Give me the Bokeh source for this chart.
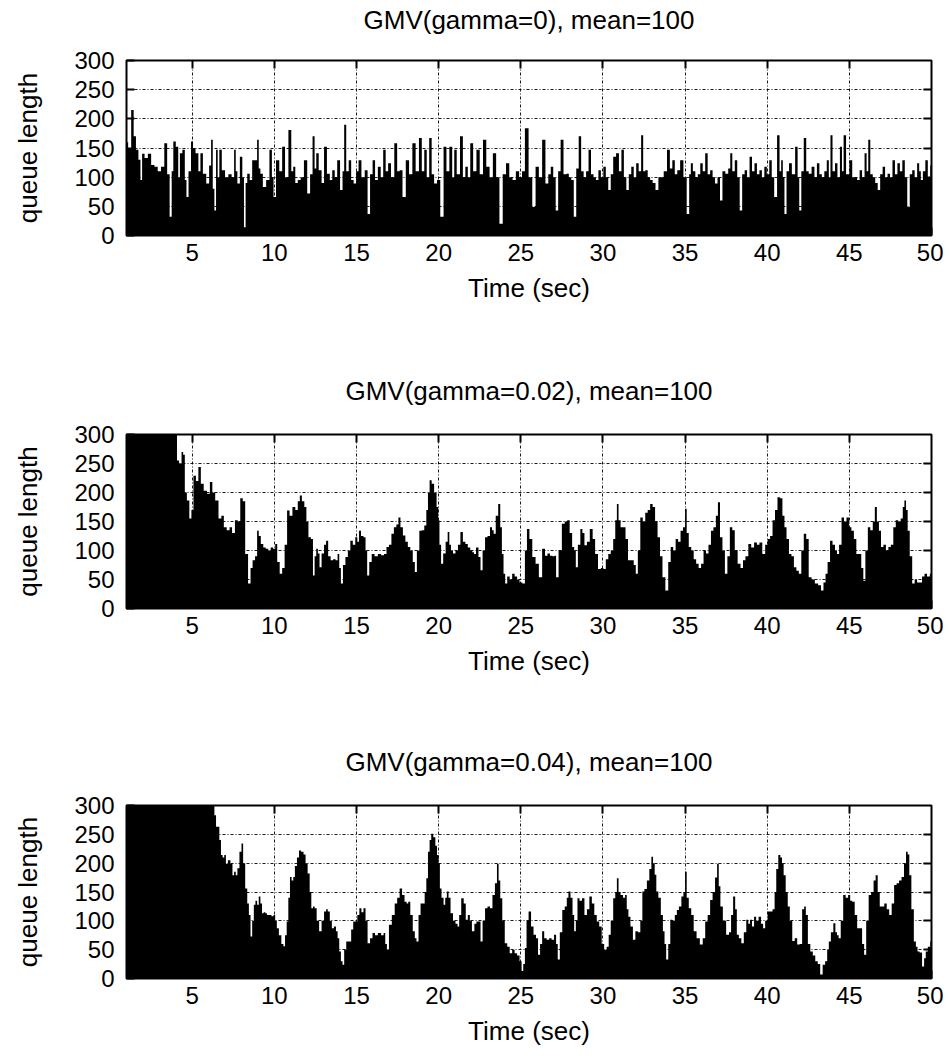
from bokeh.plotting import figure
from bokeh.models import Range1d, FixedTicker, LinearAxis
from bokeh.layouts import column
from bokeh.embed import file_html
from bokeh.resources import INLINE

# ---------------- data ----------------
titles = ["GMV(gamma=0), mean=100", "GMV(gamma=0.02), mean=100", "GMV(gamma=0.04), mean=100"]
x_ticks = [5, 10, 15, 20, 25, 30, 35, 40, 45, 50]
y_ticks = [0, 50, 100, 150, 200, 250, 300]

# panel 1 : gamma = 0
t1 = [1.0, 1.2, 1.37, 1.5, 1.65, 1.8, 1.9, 2.0, 2.2, 2.4,
      2.6, 2.8, 3.0, 3.2, 3.4, 3.55, 3.7, 3.8, 3.9, 4.1,
      4.2, 4.3, 4.5, 4.6, 4.7, 4.85, 5.0, 5.1, 5.3, 5.45,
      5.55, 5.75, 5.96, 6.1, 6.2, 6.3, 6.4, 6.5, 6.6, 6.7,
      6.9, 7.1, 7.3, 7.5, 7.6, 7.7, 7.8, 8.0, 8.1, 8.2,
      8.3, 8.4, 8.6, 8.7, 8.9, 9.0, 9.1, 9.2, 9.4, 9.6,
      9.8, 9.9, 10.0, 10.2, 10.4, 10.55, 10.75, 10.96, 11.1, 11.2,
      11.35, 11.5, 11.7, 11.9, 12.1, 12.25, 12.4, 12.5, 12.6, 12.8,
      12.95, 13.1, 13.3, 13.45, 13.6, 13.75, 13.9, 14.1, 14.2, 14.3,
      14.45, 14.6, 14.75, 14.9, 15.05, 15.2, 15.4, 15.6, 15.75, 15.9,
      16.06, 16.2, 16.4, 16.55, 16.7, 16.85, 17.0, 17.2, 17.4, 17.55,
      17.7, 17.9, 18.1, 18.3, 18.5, 18.7, 18.9, 19.05, 19.2, 19.35,
      19.5, 19.65, 19.8, 20.0, 20.2, 20.4, 20.55, 20.75, 20.9, 21.0,
      21.2, 21.4, 21.55, 21.7, 21.85, 22.0, 22.2, 22.4, 22.6, 22.8,
      23.0, 23.2, 23.4, 23.6, 23.8, 24.0, 24.2, 24.4, 24.6, 24.8,
      25.0, 25.15, 25.35, 25.6, 25.8, 26.0, 26.2, 26.4, 26.6, 26.75,
      26.9, 27.05, 27.2, 27.35, 27.5, 27.7, 27.85, 28.0, 28.15, 28.3,
      28.45, 28.6, 28.75, 28.9, 29.05, 29.2, 29.35, 29.5, 29.65, 29.8,
      29.95, 30.1, 30.25, 30.4, 30.55, 30.7, 30.9, 31.05, 31.2, 31.35,
      31.5, 31.65, 31.8, 31.95, 32.1, 32.25, 32.4, 32.5, 32.65, 32.8,
      32.95, 33.1, 33.3, 33.45, 33.6, 33.8, 34.0, 34.15, 34.3, 34.45,
      34.6, 34.8, 35.0, 35.2, 35.3, 35.4, 35.55, 35.7, 35.85, 36.0,
      36.15, 36.3, 36.45, 36.6, 36.75, 36.9, 37.05, 37.2, 37.35, 37.55,
      37.7, 37.8, 37.95, 38.1, 38.25, 38.4, 38.55, 38.7, 38.85, 39.0,
      39.15, 39.3, 39.45, 39.6, 39.75, 39.9, 40.05, 40.2, 40.35, 40.5,
      40.7, 40.8, 40.9, 41.0, 41.1, 41.25, 41.4, 41.6, 41.8, 41.9,
      42.0, 42.15, 42.3, 42.45, 42.6, 42.8, 42.95, 43.1, 43.25, 43.4,
      43.55, 43.7, 43.8, 43.9, 44.05, 44.2, 44.35, 44.5, 44.6, 44.7,
      44.9, 45.1, 45.25, 45.4, 45.55, 45.7, 45.85, 46.0, 46.1, 46.2,
      46.35, 46.5, 46.65, 46.8, 46.95, 47.1, 47.25, 47.4, 47.55, 47.7,
      47.85, 48.0, 48.15, 48.3, 48.45, 48.6, 48.75, 48.9, 49.05, 49.2,
      49.3, 49.4, 49.55, 49.7, 49.85, 50.0]
q1 = [160, 150, 215, 170, 147, 130, 95, 140, 133, 140,
      121, 118, 110, 118, 158, 105, 32, 110, 161, 152,
      100, 141, 147, 95, 66, 110, 161, 150, 141, 110,
      141, 106, 89, 120, 164, 80, 43, 147, 100, 147,
      112, 100, 105, 100, 147, 110, 89, 135, 100, 14,
      90, 106, 95, 129, 129, 164, 115, 106, 83, 95,
      147, 100, 66, 129, 110, 152, 100, 181, 110, 118,
      90, 95, 100, 129, 72, 105, 170, 115, 141, 112,
      90, 152, 106, 95, 112, 100, 129, 78, 110, 190,
      110, 129, 95, 89, 110, 129, 100, 112, 37, 105,
      129, 95, 118, 100, 147, 110, 124, 100, 158, 110,
      112, 66, 129, 105, 158, 110, 167, 110, 147, 100,
      167, 105, 89, 95, 32, 152, 110, 152, 100, 147,
      105, 170, 100, 118, 100, 158, 110, 147, 105, 164,
      118, 100, 141, 100, 20, 105, 124, 100, 95, 110,
      100, 110, 184, 100, 49, 118, 100, 164, 89, 105,
      118, 100, 43, 110, 164, 105, 106, 100, 95, 32,
      115, 170, 110, 100, 110, 147, 105, 100, 95, 112,
      100, 118, 100, 78, 105, 135, 141, 110, 147, 100,
      78, 105, 118, 100, 124, 110, 172, 110, 112, 100,
      95, 90, 78, 100, 100, 110, 147, 115, 129, 105,
      112, 129, 100, 37, 105, 124, 110, 100, 105, 124,
      110, 141, 105, 112, 100, 89, 100, 60, 110, 106,
      115, 141, 110, 129, 100, 43, 105, 112, 100, 135,
      110, 124, 105, 112, 100, 118, 105, 129, 100, 66,
      172, 110, 129, 100, 37, 110, 124, 105, 152, 100,
      43, 110, 167, 110, 106, 118, 100, 124, 105, 100,
      110, 129, 100, 172, 110, 124, 100, 152, 110, 172,
      105, 129, 100, 100, 95, 112, 100, 141, 110, 164,
      105, 100, 90, 78, 105, 118, 100, 106, 100, 129,
      105, 124, 110, 129, 100, 49, 105, 112, 100, 124,
      110, 95, 110, 129, 100, 120]

# panel 2 : gamma = 0.02 (values above 300 are clipped at the top)
t2 = [1.0, 2.0, 3.0, 4.0, 4.05, 4.1, 4.3, 4.4, 4.5, 4.6,
      4.75, 4.9, 5.0, 5.15, 5.3, 5.45, 5.6, 5.8, 6.0, 6.15,
      6.3, 6.5, 6.7, 6.85, 7.0, 7.2, 7.35, 7.5, 7.7, 7.85,
      8.0, 8.15, 8.3, 8.5, 8.6, 8.75, 8.9, 9.0, 9.1, 9.25,
      9.4, 9.55, 9.7, 9.85, 10.0, 10.1, 10.25, 10.4, 10.55, 10.7,
      10.85, 11.0, 11.2, 11.35, 11.5, 11.6, 11.75, 11.9, 12.0, 12.15,
      12.3, 12.4, 12.5, 12.6, 12.7, 12.8, 12.95, 13.1, 13.2, 13.35,
      13.5, 13.65, 13.8, 13.9, 14.0, 14.1, 14.25, 14.4, 14.55, 14.7,
      14.85, 15.0, 15.1, 15.2, 15.35, 15.5, 15.6, 15.7, 15.85, 16.0,
      16.2, 16.4, 16.6, 16.75, 16.9, 17.05, 17.2, 17.35, 17.5, 17.6,
      17.75, 17.9, 18.05, 18.2, 18.35, 18.5, 18.6, 18.75, 18.9, 19.05,
      19.2, 19.3, 19.4, 19.5, 19.65, 19.8, 19.95, 20.0, 20.1, 20.2,
      20.35, 20.5, 20.6, 20.7, 20.8, 20.95, 21.1, 21.25, 21.4, 21.55,
      21.7, 21.85, 22.0, 22.1, 22.2, 22.35, 22.5, 22.6, 22.75, 22.9,
      23.05, 23.2, 23.3, 23.4, 23.55, 23.7, 23.8, 23.9, 24.0, 24.1,
      24.25, 24.4, 24.55, 24.7, 24.85, 25.0, 25.2, 25.3, 25.45, 25.6,
      25.8, 26.0, 26.2, 26.4, 26.55, 26.7, 26.85, 27.0, 27.1, 27.2,
      27.4, 27.6, 27.75, 27.9, 28.05, 28.2, 28.3, 28.4, 28.55, 28.7,
      28.8, 28.95, 29.1, 29.3, 29.45, 29.6, 29.8, 29.95, 30.1, 30.25,
      30.4, 30.55, 30.7, 30.8, 30.9, 31.0, 31.15, 31.3, 31.45, 31.6,
      31.8, 31.95, 32.05, 32.2, 32.35, 32.5, 32.65, 32.8, 32.95, 33.1,
      33.25, 33.4, 33.55, 33.7, 33.9, 34.05, 34.2, 34.35, 34.5, 34.65,
      34.8, 34.95, 35.05, 35.15, 35.3, 35.45, 35.6, 35.75, 35.9, 36.05,
      36.2, 36.35, 36.5, 36.65, 36.8, 36.95, 37.05, 37.2, 37.35, 37.5,
      37.65, 37.8, 37.95, 38.1, 38.3, 38.45, 38.6, 38.75, 38.95, 39.1,
      39.3, 39.45, 39.6, 39.8, 39.95, 40.1, 40.25, 40.4, 40.55, 40.7,
      40.85, 41.0, 41.1, 41.25, 41.4, 41.55, 41.7, 41.85, 42.0, 42.15,
      42.3, 42.45, 42.6, 42.8, 43.0, 43.2, 43.35, 43.5, 43.6, 43.75,
      43.9, 44.05, 44.2, 44.3, 44.45, 44.6, 44.75, 44.9, 45.05, 45.2,
      45.35, 45.5, 45.65, 45.8, 45.9, 46.05, 46.2, 46.35, 46.5, 46.6,
      46.75, 46.85, 47.0, 47.15, 47.3, 47.45, 47.6, 47.75, 47.9, 48.05,
      48.2, 48.3, 48.4, 48.5, 48.6, 48.75, 48.9, 49.05, 49.2, 49.35,
      49.5, 49.65, 49.8, 50.0]
q2 = [350, 350, 350, 350, 350, 255, 250, 270, 265, 200,
      186, 155, 170, 229, 220, 244, 215, 203, 198, 218,
      200, 186, 155, 160, 140, 135, 140, 130, 152, 150,
      190, 185, 94, 43, 70, 83, 90, 134, 125, 111,
      105, 103, 100, 105, 103, 111, 80, 60, 70, 110,
      169, 160, 175, 170, 185, 195, 185, 175, 150, 123,
      120, 57, 90, 103, 95, 71, 95, 110, 117, 90,
      83, 85, 83, 94, 70, 43, 75, 89, 100, 117,
      110, 123, 115, 134, 125, 123, 100, 57, 80, 94,
      90, 94, 92, 94, 106, 110, 129, 140, 145, 157,
      140, 126, 115, 106, 100, 80, 63, 100, 134, 135,
      143, 170, 200, 221, 215, 200, 175, 152, 110, 77,
      95, 115, 132, 110, 100, 95, 100, 110, 132, 115,
      111, 105, 100, 97, 94, 105, 89, 66, 100, 123,
      125, 140, 135, 129, 160, 180, 140, 94, 60, 43,
      55, 50, 60, 55, 50, 45, 43, 100, 137, 120,
      89, 77, 54, 103, 91, 95, 91, 90, 91, 54,
      100, 146, 150, 152, 130, 106, 100, 71, 110, 137,
      130, 109, 115, 137, 120, 94, 68, 70, 68, 85,
      94, 100, 120, 152, 180, 152, 140, 140, 120, 83,
      83, 75, 60, 100, 157, 150, 165, 170, 180, 175,
      150, 123, 90, 54, 31, 80, 106, 100, 120, 115,
      134, 140, 172, 130, 106, 100, 85, 77, 70, 77,
      100, 95, 110, 134, 140, 160, 183, 123, 100, 60,
      90, 140, 135, 100, 77, 70, 83, 90, 111, 105,
      114, 110, 114, 94, 110, 120, 125, 152, 170, 192,
      190, 160, 140, 120, 94, 90, 71, 65, 60, 100,
      129, 120, 54, 50, 43, 40, 31, 45, 60, 80,
      117, 110, 100, 94, 110, 157, 150, 157, 140, 134,
      120, 94, 94, 70, 48, 100, 140, 135, 150, 175,
      150, 134, 106, 110, 100, 106, 110, 140, 152, 150,
      155, 175, 186, 170, 134, 90, 43, 50, 45, 45,
      55, 60, 55, 60]

# panel 3 : gamma = 0.04 (values above 300 are clipped at the top)
t3 = [1.0, 3.0, 5.0, 6.2, 6.3, 6.4, 6.5, 6.6, 6.7, 6.8,
      6.9, 7.0, 7.1, 7.25, 7.4, 7.5, 7.6, 7.7, 7.8, 7.95,
      8.05, 8.15, 8.3, 8.4, 8.5, 8.6, 8.7, 8.8, 8.9, 9.0,
      9.1, 9.2, 9.3, 9.4, 9.5, 9.6, 9.75, 9.9, 10.0, 10.1,
      10.2, 10.35, 10.5, 10.6, 10.7, 10.8, 10.9, 11.0, 11.1, 11.2,
      11.3, 11.45, 11.55, 11.7, 11.85, 11.95, 12.1, 12.2, 12.3, 12.4,
      12.5, 12.65, 12.8, 12.95, 13.1, 13.2, 13.3, 13.45, 13.55, 13.7,
      13.8, 13.9, 14.0, 14.1, 14.2, 14.3, 14.45, 14.6, 14.75, 14.85,
      15.0, 15.1, 15.25, 15.35, 15.5, 15.6, 15.75, 15.9, 16.05, 16.2,
      16.4, 16.6, 16.7, 16.8, 16.9, 17.05, 17.25, 17.4, 17.55, 17.7,
      17.85, 18.0, 18.1, 18.2, 18.35, 18.5, 18.6, 18.7, 18.85, 18.95,
      19.1, 19.2, 19.3, 19.4, 19.5, 19.6, 19.75, 19.85, 19.95, 20.05,
      20.1, 20.25, 20.35, 20.45, 20.55, 20.65, 20.8, 20.95, 21.1, 21.2,
      21.3, 21.45, 21.6, 21.7, 21.85, 21.95, 22.1, 22.25, 22.35, 22.5,
      22.6, 22.75, 22.9, 23.05, 23.2, 23.35, 23.5, 23.6, 23.7, 23.8,
      23.95, 24.1, 24.25, 24.4, 24.55, 24.7, 24.85, 25.0, 25.1, 25.2,
      25.3, 25.4, 25.55, 25.7, 25.85, 26.0, 26.1, 26.25, 26.35, 26.5,
      26.65, 26.8, 26.95, 27.1, 27.2, 27.3, 27.45, 27.6, 27.75, 27.85,
      27.95, 28.1, 28.2, 28.3, 28.4, 28.5, 28.65, 28.8, 28.95, 29.1,
      29.25, 29.4, 29.55, 29.7, 29.85, 30.0, 30.15, 30.3, 30.4, 30.55,
      30.7, 30.8, 30.9, 31.0, 31.15, 31.3, 31.4, 31.5, 31.6, 31.75,
      31.9, 32.05, 32.2, 32.35, 32.45, 32.6, 32.75, 32.9, 33.0, 33.1,
      33.2, 33.3, 33.45, 33.6, 33.7, 33.8, 33.9, 34.05, 34.15, 34.3,
      34.45, 34.55, 34.7, 34.85, 34.95, 35.05, 35.15, 35.3, 35.45, 35.6,
      35.8, 36.0, 36.15, 36.3, 36.45, 36.6, 36.75, 36.9, 37.0, 37.1,
      37.2, 37.4, 37.6, 37.75, 37.85, 38.0, 38.1, 38.2, 38.35, 38.5,
      38.65, 38.8, 38.9, 39.0, 39.15, 39.25, 39.4, 39.55, 39.7, 39.8,
      39.95, 40.1, 40.25, 40.4, 40.5, 40.6, 40.75, 40.85, 40.95, 41.05,
      41.2, 41.3, 41.45, 41.6, 41.75, 41.9, 42.05, 42.2, 42.3, 42.4,
      42.55, 42.7, 42.85, 43.0, 43.15, 43.3, 43.45, 43.6, 43.7, 43.8,
      43.95, 44.1, 44.2, 44.3, 44.4, 44.55, 44.7, 44.85, 45.0, 45.1,
      45.25, 45.4, 45.55, 45.7, 45.85, 45.95, 46.1, 46.25, 46.4, 46.55,
      46.65, 46.8, 46.9, 47.05, 47.2, 47.35, 47.5, 47.65, 47.8, 47.95,
      48.1, 48.25, 48.4, 48.5, 48.6, 48.7, 48.85, 49.0, 49.1, 49.2,
      49.35, 49.5, 49.6, 49.7, 49.85, 50.0]
q3 = [350, 350, 350, 350, 300, 283, 263, 263, 240, 214,
      210, 214, 199, 205, 199, 179, 185, 179, 191, 220,
      234, 200, 156, 130, 110, 73, 100, 128, 135, 128,
      142, 130, 113, 115, 113, 110, 110, 108, 110, 100,
      87, 75, 60, 56, 75, 99, 140, 176, 170, 176,
      195, 210, 222, 220, 215, 200, 182, 150, 122, 125,
      122, 100, 82, 100, 116, 120, 116, 100, 87, 90,
      82, 70, 47, 30, 24, 50, 64, 64, 85, 99,
      99, 110, 122, 115, 122, 100, 61, 70, 79, 75,
      79, 75, 79, 60, 50, 93, 110, 130, 140, 156,
      145, 133, 130, 133, 110, 82, 70, 64, 110, 130,
      130, 150, 174, 220, 240, 251, 245, 230, 214, 200,
      156, 140, 128, 140, 151, 140, 113, 100, 95, 90,
      110, 139, 130, 102, 110, 100, 82, 95, 99, 99,
      64, 100, 122, 125, 122, 145, 165, 199, 170, 139,
      100, 61, 55, 44, 50, 44, 40, 30, 13, 25,
      53, 100, 116, 90, 76, 70, 41, 60, 82, 70,
      67, 70, 67, 76, 60, 33, 80, 119, 125, 140,
      151, 140, 110, 82, 100, 139, 135, 139, 110, 120,
      142, 130, 110, 99, 90, 60, 50, 55, 76, 100,
      139, 150, 174, 150, 145, 140, 145, 120, 107, 90,
      67, 82, 80, 100, 151, 155, 170, 190, 211, 200,
      180, 151, 140, 110, 82, 60, 33, 60, 102, 100,
      110, 119, 125, 142, 150, 185, 140, 122, 110, 82,
      70, 59, 70, 99, 110, 136, 150, 175, 199, 160,
      125, 100, 76, 80, 110, 142, 120, 76, 70, 61,
      80, 102, 95, 102, 90, 107, 100, 107, 95, 87,
      100, 116, 116, 120, 150, 190, 214, 210, 200, 179,
      150, 125, 100, 65, 70, 59, 60, 120, 125, 110,
      60, 47, 40, 30, 25, 7, 24, 30, 50, 64,
      80, 96, 80, 75, 70, 100, 145, 140, 145, 135,
      133, 110, 87, 87, 60, 41, 100, 145, 150, 170,
      179, 150, 125, 125, 130, 120, 110, 130, 162, 165,
      170, 176, 200, 220, 215, 179, 120, 64, 55, 47,
      45, 21, 35, 47, 55, 64]

for a, b in ((t1, q1), (t2, q2), (t3, q3)):
    assert len(a) == len(b), (len(a), len(b))

# ---------------- styling ----------------
FONT = "Liberation Sans"


def style_axis(ax, ticks, show_labels):
    ax.ticker = FixedTicker(ticks=ticks)
    ax.axis_line_color = None
    ax.major_tick_in = 8
    ax.major_tick_out = 0
    ax.major_tick_line_width = 2
    ax.major_tick_line_color = "black"
    ax.minor_tick_line_color = None
    if show_labels:
        ax.major_label_text_font = FONT
        ax.major_label_text_font_size = "24px"
        ax.major_label_text_color = "black"
    else:
        ax.major_label_overrides = {k: "" for k in ticks}
        ax.major_label_text_font_size = "1px"
        ax.major_label_standoff = 0


def style_label(ax, text, standoff):
    ax.axis_label = text
    ax.axis_label_text_font = FONT
    ax.axis_label_text_font_size = "26px"
    ax.axis_label_text_font_style = "normal"
    ax.axis_label_text_color = "black"
    ax.axis_label_standoff = standoff


def panel(title, t, q, top, bottom, frame_h, title_standoff):
    p = figure(frame_width=805, frame_height=frame_h,
               x_range=Range1d(1, 50), y_range=Range1d(0, 300),
               output_backend="svg", toolbar_location=None,
               min_border_left=126, min_border_right=12,
               min_border_top=top, min_border_bottom=bottom,
               background_fill_color="white", border_fill_color="white")

    p.outline_line_color = "black"
    p.outline_line_width = 2
    p.outline_line_alpha = 1

    for g, ticks in ((p.xgrid, x_ticks), (p.ygrid, y_ticks)):
        g.ticker = FixedTicker(ticks=ticks)
        g.grid_line_color = "black"
        g.grid_line_width = 1
        g.grid_line_dash = "3 2 1 2"
        g.grid_line_alpha = 0.9

    bottom_ax = p.xaxis[0]
    left_ax = p.yaxis[0]
    style_axis(bottom_ax, x_ticks, True)
    style_axis(left_ax, y_ticks, True)
    bottom_ax.major_label_standoff = 8
    left_ax.major_label_standoff = 12
    style_label(bottom_ax, "Time (sec)", 9)
    style_label(left_ax, "queue length", 28)

    # mirrored tick marks on top (carrying the panel title) and right
    top_ax = LinearAxis()
    right_ax = LinearAxis()
    p.add_layout(top_ax, "above")
    p.add_layout(right_ax, "right")
    style_axis(top_ax, x_ticks[:-1], False)
    style_axis(right_ax, y_ticks[1:-1], False)
    style_label(top_ax, title, title_standoff)

    p.varea_step(x=t, y1=[0] * len(t), y2=q, step_mode="center",
                 fill_color="black", fill_alpha=1)
    return p


p1 = panel(titles[0], t1, q1, 60, 136, 175, 26)
p2 = panel(titles[1], t2, q2, 63, 134, 174, 29)
p3 = panel(titles[2], t3, q3, 63, 76, 173, 29)

layout = column(p1, p2, p3, spacing=0)
open("out.html", "w").write(file_html(layout, INLINE))
